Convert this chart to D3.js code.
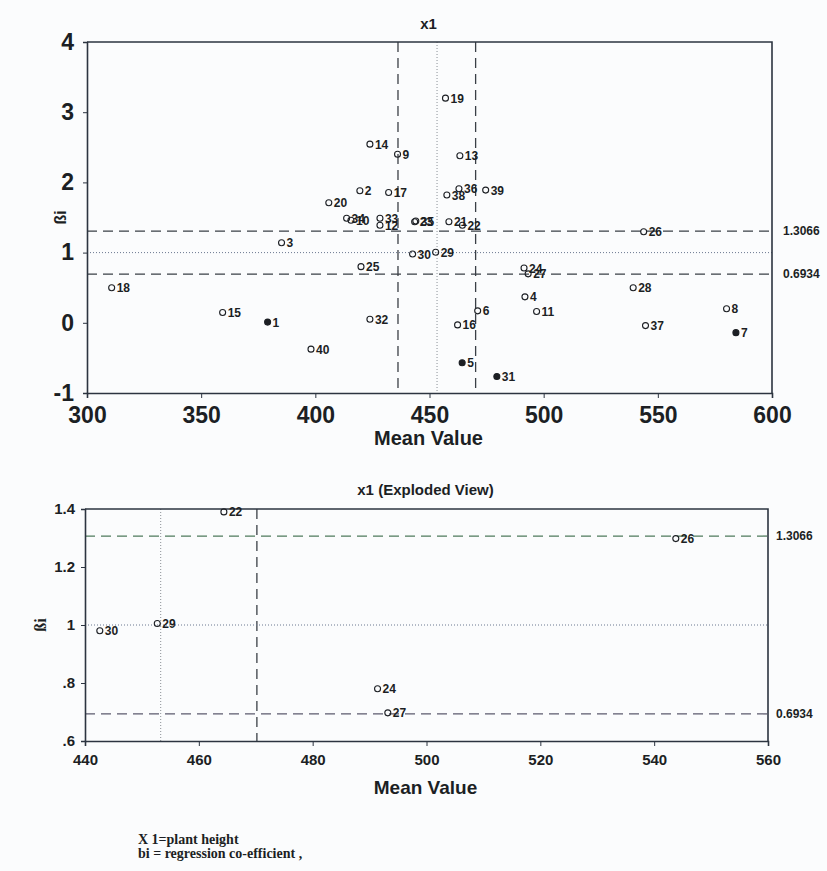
<!DOCTYPE html>
<html>
<meta charset="UTF-8">
<script src="https://d3js.org/d3.v7.min.js"></script>
<style>
  body { margin: 0; background: #fbfcfd; }
  text { font-family: "Liberation Sans Narrow", "Liberation Sans", Arial, sans-serif; font-weight: bold; fill: #1c1f24; }
  .note { font-family: "Liberation Serif", "Times New Roman", serif; font-weight: bold; font-size: 14px; }
</style>
<body>
<div id="chart"></div>
<script>
// genotype number, mean plant height, regression coefficient
var ids   = [1, 2, 3, 4, 5, 6, 7, 8, 9, 10, 11, 12, 13, 14, 15, 16, 17, 18, 19, 20,
             21, 22, 23, 24, 25, 26, 27, 28, 29, 30, 31, 32, 33, 34, 35, 36, 37, 38, 39, 40];
var meanX = [379.1, 419.5, 385.2, 491.8, 464.3, 471.1, 584.2, 580.1, 436.0, 415.6,
             496.9, 428.3, 463.3, 423.9, 359.4, 462.3, 432.1, 310.8, 457.0, 405.9,
             458.5, 464.4, 443.5, 491.4, 420.0, 543.8, 493.2, 539.2, 452.7, 442.6,
             479.5, 423.9, 428.3, 413.7, 444.0, 462.9, 544.6, 457.6, 474.6, 398.1];
var betaY = [0.01, 1.88, 1.14, 0.37, -0.57, 0.17, -0.14, 0.20, 2.40, 1.46,
             0.16, 1.39, 2.38, 2.545, 0.147, -0.03, 1.856, 0.50, 3.20, 1.71,
             1.44, 1.39, 1.44, 0.78, 0.80, 1.298, 0.697, 0.50, 1.005, 0.98,
             -0.765, 0.05, 1.49, 1.49, 1.45, 1.91, -0.04, 1.82, 1.89, -0.375];
var filled = [1, 5, 7, 31];

var refLines = [1.3066, 0.6934];
var refLabels = ["1.3066", "0.6934"];
var meanAll = 453.3, lowX = 436.2, highX = 470.2;

var topXTicks = [300, 350, 400, 450, 500, 550, 600];
var topYTicks = [-1, 0, 1, 2, 3, 4];
var botXTicks = [440, 460, 480, 500, 520, 540, 560];
var botYTicks = [0.6, 0.8, 1, 1.2, 1.4];
var botYLabels = [".6", ".8", "1", "1.2", "1.4"];

var points = ids.map(function(id, i) {
  return {id: id, x: meanX[i], y: betaY[i], solid: filled.indexOf(id) >= 0};
});

var svg = d3.select("#chart").append("svg")
  .attr("width", 827).attr("height", 871);

var ink = "#2c3440";

function panel(cfg) {
  var x = d3.scaleLinear().domain(cfg.xd).range([cfg.left, cfg.right]);
  var y = d3.scaleLinear().domain(cfg.yd).range([cfg.bottom, cfg.top]);
  var g = svg.append("g");

  // reference lines
  g.append("line")
    .attr("x1", x(meanAll)).attr("x2", x(meanAll))
    .attr("y1", cfg.top).attr("y2", cfg.bottom)
    .attr("stroke", "#8a8f96").attr("stroke-width", 1).attr("stroke-dasharray", "1,2");
  [lowX, highX].forEach(function(v) {
    if (v < cfg.xd[0] || v > cfg.xd[1]) return;
    g.append("line")
      .attr("x1", x(v)).attr("x2", x(v))
      .attr("y1", cfg.top).attr("y2", cfg.bottom)
      .attr("stroke", "#3a3f46").attr("stroke-width", 1.3).attr("stroke-dasharray", "10,6");
  });
  g.append("line")
    .attr("x1", cfg.left).attr("x2", cfg.right)
    .attr("y1", y(1)).attr("y2", y(1))
    .attr("stroke", "#6b7890").attr("stroke-width", 1).attr("stroke-dasharray", "1,2");
  refLines.forEach(function(v, i) {
    g.append("line")
      .attr("x1", cfg.left).attr("x2", cfg.right)
      .attr("y1", y(v)).attr("y2", y(v))
      .attr("stroke", cfg.refColors[i]).attr("stroke-width", 1.3).attr("stroke-dasharray", "10,6");
    g.append("text")
      .attr("x", cfg.right + cfg.refDx).attr("y", y(v) + 4)
      .style("font-size", "12px")
      .style("font-family", "'Liberation Sans', Arial, sans-serif")
      .text(refLabels[i]);
  });

  // axes
  var xa = g.append("g")
    .attr("transform", "translate(0," + cfg.bottom + ")")
    .call(d3.axisBottom(x).tickValues(cfg.xt).tickSize(5).tickPadding(cfg.xPad).tickFormat(d3.format("d")));
  var ya = g.append("g")
    .attr("transform", "translate(" + cfg.left + ",0)")
    .call(d3.axisLeft(y).tickValues(cfg.yt).tickSize(4).tickPadding(cfg.yPad)
      .tickFormat(function(d, i) { return cfg.yl ? cfg.yl[i] : d; }));
  [xa, ya].forEach(function(a) {
    a.select(".domain").attr("stroke", ink).attr("stroke-width", 1.6);
    a.selectAll(".tick line").attr("stroke", ink);
    a.selectAll(".tick text").style("font-size", cfg.tickFont + "px")
      .style("font-family", cfg.tickFamily).attr("fill", "#1c1f24");
  });
  // frame top and right
  g.append("path")
    .attr("d", "M" + cfg.left + "," + cfg.top + "H" + cfg.right + "V" + cfg.bottom)
    .attr("fill", "none").attr("stroke", ink).attr("stroke-width", 1.6);

  // points
  var pts = points.filter(function(d) {
    return d.x >= cfg.xd[0] && d.x <= cfg.xd[1] && d.y >= cfg.yd[0] && d.y <= cfg.yd[1];
  });
  var pg = g.selectAll(".pt").data(pts).enter().append("g").attr("class", "pt");
  pg.append("circle")
    .attr("cx", function(d) { return x(d.x); })
    .attr("cy", function(d) { return y(d.y); })
    .attr("r", 3)
    .attr("fill", function(d) { return d.solid ? "#1c1f24" : "none"; })
    .attr("stroke", "#1c1f24").attr("stroke-width", 1.1);
  pg.append("text")
    .attr("x", function(d) { return x(d.x) + 5; })
    .attr("y", function(d) { return y(d.y) + 4.5; })
    .style("font-size", "12px")
    .text(function(d) { return d.id; });

  // titles
  g.append("text")
    .attr("x", (cfg.left + cfg.right) / 2 - 1).attr("y", cfg.titleY)
    .attr("text-anchor", "middle").style("font-size", "15px")
    .text(cfg.title);
  g.append("text")
    .attr("x", (cfg.left + cfg.right) / 2 - 1).attr("y", cfg.xLabY)
    .attr("text-anchor", "middle").style("font-size", cfg.xLabFont + "px")
    .style("font-family", "'Liberation Sans', Arial, sans-serif")
    .text("Mean Value");
  g.append("text")
    .attr("transform", "translate(" + cfg.yLabX + "," + ((cfg.top + cfg.bottom) / 2) + ") rotate(-90)")
    .attr("text-anchor", "middle").style("font-size", "16px")
    .style("font-family", cfg.serifY ? "'Liberation Serif', serif" : "'Liberation Sans', Arial, sans-serif")
    .text("ßi");
}

panel({
  xd: [300, 600], yd: [-1, 4],
  left: 87, right: 772, top: 42, bottom: 393,
  xt: topXTicks, yt: topYTicks, xPad: 9, yPad: 9, tickFont: 23,
  tickFamily: "'Liberation Sans Narrow', 'Liberation Sans', Arial, sans-serif",
  refColors: ["#3a3f46", "#3a3f46"], refDx: 11,
  title: "x1", titleY: 29, xLabY: 445, xLabFont: 20, yLabX: 66, serifY: false
});

panel({
  xd: [440, 560], yd: [0.6, 1.4],
  left: 85, right: 768, top: 509, bottom: 741,
  xt: botXTicks, yt: botYTicks, yl: botYLabels, xPad: 8, yPad: 6, tickFont: 15,
  tickFamily: "'Liberation Sans', Arial, sans-serif",
  refColors: ["#4f7a5c", "#5c5a6e"], refDx: 8,
  title: "x1 (Exploded View)", titleY: 495, xLabY: 794, xLabFont: 19, yLabX: 46, serifY: true
});

svg.append("text").attr("class", "note").attr("x", 138).attr("y", 844).text("X 1=plant height");
svg.append("text").attr("class", "note").attr("x", 138).attr("y", 858).text("bi = regression co-efficient ,");
</script>
</body>
</html>
